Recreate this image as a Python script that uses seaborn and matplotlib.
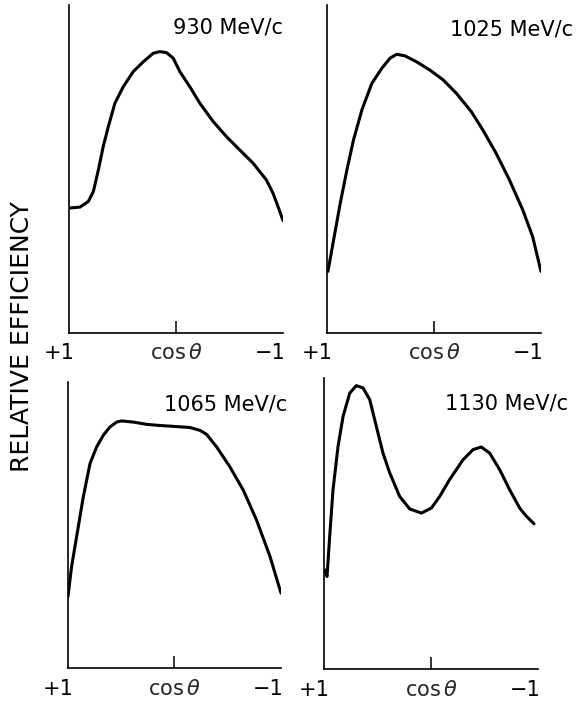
import numpy as np
import pandas as pd
import seaborn as sns
import matplotlib.pyplot as plt

# ---- data (cos theta, relative efficiency 0..100) ----
momenta = ["930 MeV/c", "1025 MeV/c", "1065 MeV/c", "1130 MeV/c"]

cos_930 = [1.000, 0.897, 0.820, 0.773, 0.726, 0.680, 0.633, 0.571, 0.493, 0.400,
           0.306, 0.213, 0.151, 0.089, 0.026, -0.036, -0.129, -0.222, -0.347,
           -0.471, -0.596, -0.720, -0.844, -0.907, -0.953, -1.000]
eff_930 = [38.1, 38.4, 40.1, 43.1, 49.7, 56.9, 62.9, 70.1, 75.1, 79.7,
           82.7, 85.3, 85.8, 85.5, 83.8, 79.7, 75.1, 70.1, 64.5,
           59.9, 55.8, 51.8, 46.7, 42.6, 38.6, 34.3]

cos_1025 = [0.991, 0.938, 0.876, 0.814, 0.752, 0.674, 0.581, 0.488, 0.411, 0.349,
            0.271, 0.163, 0.039, -0.085, -0.209, -0.349, -0.457, -0.581, -0.705,
            -0.829, -0.922, -1.000]
eff_1025 = [18.8, 28.4, 39.6, 49.7, 58.9, 68.0, 76.1, 80.7, 83.8, 85.0,
            84.5, 82.7, 80.2, 77.2, 73.1, 67.5, 61.9, 54.8, 46.7,
            37.6, 29.4, 18.8]

cos_1065 = [1.000, 0.966, 0.919, 0.856, 0.793, 0.731, 0.668, 0.606, 0.543, 0.496,
            0.387, 0.261, 0.136, 0.011, -0.146, -0.239, -0.302, -0.396, -0.521,
            -0.646, -0.771, -0.897, -1.000]
eff_1065 = [25.0, 35.5, 45.9, 59.9, 71.5, 77.3, 81.4, 84.3, 86.0, 86.4,
            86.0, 85.2, 84.8, 84.5, 84.1, 83.1, 81.7, 77.3, 70.3,
            62.2, 51.7, 39.0, 26.2]

cos_1130 = [0.994, 0.972, 0.947, 0.916, 0.869, 0.822, 0.760, 0.698, 0.636, 0.573,
            0.511, 0.449, 0.386, 0.293, 0.199, 0.090, -0.003, -0.081, -0.174,
            -0.299, -0.393, -0.470, -0.548, -0.642, -0.735, -0.829, -0.891, -0.963]
eff_1130 = [34.1, 31.8, 45.6, 61.6, 76.5, 86.8, 94.8, 97.4, 96.6, 92.6,
            83.4, 74.2, 67.4, 59.3, 55.0, 53.6, 55.3, 59.3, 65.1,
            71.9, 75.4, 76.3, 74.2, 68.5, 61.6, 55.3, 52.5, 49.9]

series = [(cos_930, eff_930), (cos_1025, eff_1025),
          (cos_1065, eff_1065), (cos_1130, eff_1130)]

end_ticks = [1, -1]
end_labels = ["+1", "\u22121"]

# axes rectangles in figure fraction, and title anchor in axes fraction
axes_rects = [
    [0.1188, 0.5256, 0.3683, 0.4672],
    [0.5628, 0.5256, 0.3683, 0.4672],
    [0.1170, 0.0484, 0.3666, 0.4074],
    [0.5577, 0.0470, 0.3683, 0.4145],
]
title_pos = [(1.00, 0.933), (1.15, 0.924), (1.03, 0.920), (1.14, 0.914)]
label_pad = [7, 7, 8, 8]
end_shift = [4.0, 2.0]   # points to the right for "+1" / "-1"

sns.set_theme(style="white")
plt.rcParams['font.family'] = ['DejaVu Sans']
plt.rcParams['mathtext.fontset'] = 'dejavusans'

fig = plt.figure(figsize=(5.81, 7.02), dpi=100)

for i, (cos_vals, eff_vals) in enumerate(series):
    ax = fig.add_axes(axes_rects[i])
    df = pd.DataFrame({"cos": cos_vals, "eff": eff_vals})
    sns.lineplot(data=df, x="cos", y="eff", ax=ax, color="black",
                 linewidth=2.2, sort=False, estimator=None)

    ax.set_xlim(1, -1)
    ax.set_ylim(0, 100)
    ax.set_xlabel("")
    ax.set_ylabel("")
    ax.set_yticks([])

    for s in ["top", "right"]:
        ax.spines[s].set_visible(False)
    for s in ["left", "bottom"]:
        ax.spines[s].set_color("black")
        ax.spines[s].set_linewidth(1.2)

    # centre tick carries "cos θ", the ends get unmarked labels
    ax.set_xticks([0], labels=[r"cos$\,\theta$"])
    ax.tick_params(axis="x", which="major", direction="in", length=8.5,
                   width=1.1, color="black", labelsize=15, pad=label_pad[i],
                   bottom=True)
    for xv, lab, dx in zip(end_ticks, end_labels, end_shift):
        ax.annotate(lab, xy=(xv, 0), xycoords=ax.get_xaxis_transform(),
                    xytext=(dx, -label_pad[i]), textcoords="offset points",
                    ha="right", va="top", fontsize=15, color="black",
                    annotation_clip=False)

    tx, ty = title_pos[i]
    ax.text(tx, ty, momenta[i], transform=ax.transAxes, ha="right", va="center",
            fontsize=15, color="black", clip_on=False)

fig.text(0.038, 0.52, "RELATIVE EFFICIENCY", rotation=90, ha="center",
         va="center", fontsize=18, color="black")

fig.savefig("out.png", dpi=100, facecolor="white")
plt.close(fig)
